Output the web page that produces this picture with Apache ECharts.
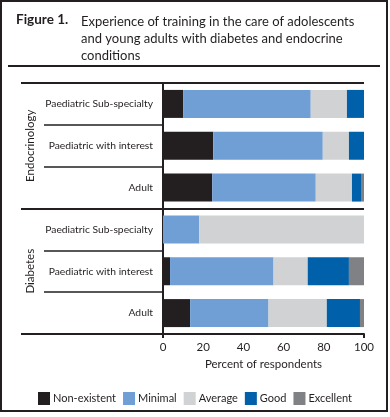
<!DOCTYPE html>
<html><head><meta charset="utf-8">
<script src="https://cdn.jsdelivr.net/npm/echarts@6/dist/echarts.min.js"></script>
<style>html,body{margin:0;padding:0;background:#fff}#c{width:390px;height:417px}</style>
</head><body><div id="c"></div>
<script>
const categories = ['Paediatric Sub-specialty','Paediatric with interest','Adult','Paediatric Sub-specialty','Paediatric with interest','Adult'];
const groups = ['Endocrinology','Diabetes'];
const levels = ['Non-existent','Minimal','Average','Good','Excellent'];
const nonExistent = [10, 25, 24.5, 0, 3.5, 13.5];
const minimal = [63.5, 54.5, 51.5, 18, 51.5, 39];
const average = [18, 13, 18, 82, 17, 29];
const good = [8.5, 7.5, 4.5, 0, 20.5, 16.5];
const excellent = [0, 0, 1.5, 0, 7.5, 2];
const xTicks = [0, 20, 40, 60, 80, 100];

const colors = ['#231f20','#709fd5','#d1d2d4','#0060aa','#808184'];
const values = [nonExistent, minimal, average, good, excellent];
const ink = '#231f20';
const font = 'Lato';

const chart = echarts.init(document.getElementById('c'), null, {renderer:'canvas'});
chart.setOption({
  animation: false,
  textStyle: {fontFamily: font, color: ink},
  title: [
    {text: 'Figure 1.', left: 11, top: 8, textStyle: {fontFamily: font, fontWeight: 'bold', fontSize: 13.5, color: ink}},
    {text: 'Experience of training in the care of adolescents\nand young adults with diabetes and endocrine\nconditions', left: 76, top: 8,
     textStyle: {fontFamily: font, fontWeight: 'normal', fontSize: 13, lineHeight: 17, color: ink}}
  ],
  graphic: [
    {type: 'rect', shape: {x: 1, y: 1, width: 386, height: 410}, style: {fill: 'none', stroke: ink, lineWidth: 2}, silent: true},
    {type: 'line', shape: {x1: 8, y1: 66, x2: 380, y2: 66}, style: {stroke: ink, lineWidth: 2}, silent: true}
  ],
  legend: {
    data: levels, left: 33, top: 387, icon: 'rect', itemWidth: 12, itemHeight: 13, itemGap: 7,
    textStyle: {fontFamily: font, fontSize: 11, color: ink, padding: [0,0,0,-2]}
  },
  grid: {left: 163, right: 26, top: 83, bottom: 83, containLabel: false},
  xAxis: [
    {type: 'value', min: 0, max: 100, interval: 20, data: xTicks,
     axisLine: {show: true, lineStyle: {color: ink, width: 2}},
     axisTick: {show: false}, splitLine: {show: false},
     axisLabel: {fontFamily: font, fontSize: 11.5, color: ink, margin: 7},
     name: 'Percent of respondents', nameLocation: 'middle', nameGap: 23,
     nameTextStyle: {fontFamily: font, fontSize: 11.5, color: ink}},
    {type: 'value', min: 0, max: 100, interval: 100, position: 'bottom',
     axisLine: {show: false}, axisLabel: {show: false}, splitLine: {show: false},
     axisTick: {show: true, length: 4, lineStyle: {color: ink, width: 2}}}
  ],
  yAxis: [
    {type: 'category', data: categories, inverse: true,
     axisLine: {show: true, lineStyle: {color: ink, width: 2}},
     axisTick: {show: true, interval: 0, length: 119, lineStyle: {color: ink, width: 1.5}},
     splitLine: {show: false},
     axisLabel: {fontFamily: font, fontSize: 10.3, color: ink, margin: 10, interval: 0}},
    {type: 'category', data: groups, inverse: true, position: 'left',
     axisLine: {show: false},
     axisTick: {show: true, interval: 0, length: 142, lineStyle: {color: ink, width: 2}},
     splitLine: {show: true, interval: 0, lineStyle: {color: ink, width: 2}},
     axisLabel: {fontFamily: font, fontSize: 11.5, color: ink, rotate: 90, margin: 127, interval: 0}}
  ],
  series: levels.map((name, i) => ({
    name, type: 'bar', stack: 'total', xAxisIndex: 0, yAxisIndex: 0,
    barWidth: 28, data: values[i], itemStyle: {color: colors[i]}
  }))
});
</script></body></html>
